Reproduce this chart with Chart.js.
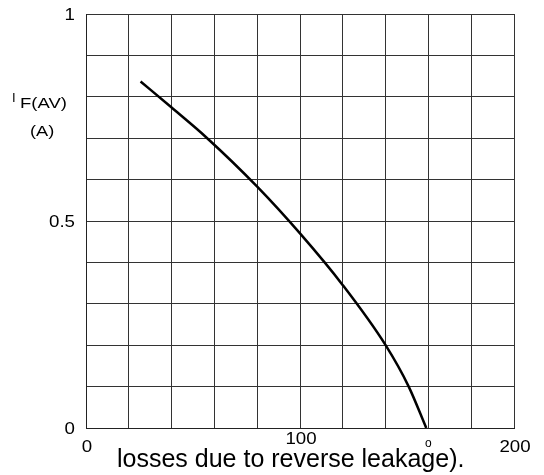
<!DOCTYPE html>
<html>
<head>
<meta charset="utf-8">
<script src="https://cdn.jsdelivr.net/npm/chart.js@4/dist/chart.umd.min.js"></script>
<style>
  html, body { margin: 0; padding: 0; background: #fff; }
  #wrap { width: 544px; height: 475px; }
</style>
</head>
<body>
<div id="wrap"><canvas id="derating"></canvas></div>
<script>
// Forward current derating curve: I F(AV) (A) vs temperature
const tempPoints = [25.5, 40, 56, 80, 100, 120, 140, 150.8, 159];
const currentPoints = [0.837, 0.774, 0.703, 0.583, 0.470, 0.345, 0.200, 0.100, 0];
const xLabeled = [0, 100, 200];
const yLabeled = [1, 0.5, 0];
const yTitleMain = "I";
const yTitleSub = "F(AV)";
const yTitleUnit = "(A)";
const footText = "losses due to reverse leakage).";
const degreeMark = "o";

const FONT = "Arial, 'Liberation Sans', sans-serif";

// text drawn with a horizontal stretch, anchored at (x, y)
function stretchText(ctx, text, x, y, size, sx, align) {
  ctx.save();
  ctx.font = size + "px " + FONT;
  ctx.textAlign = align;
  ctx.translate(x, y);
  ctx.scale(sx, 1);
  ctx.fillText(text, 0, 0);
  ctx.restore();
}

// tick labels, axis title and caption
const annotations = {
  id: "annotations",
  afterDraw(chart) {
    const ctx = chart.ctx;
    const xs = chart.scales.x;
    const ys = chart.scales.y;
    ctx.save();
    ctx.fillStyle = "#000";
    ctx.textBaseline = "middle";

    yLabeled.forEach((v) => {
      stretchText(ctx, String(v), 75, ys.getPixelForValue(v) + 1, 17, 1.1, "right");
    });
    xLabeled.forEach((v) => {
      // the middle label sits a little higher in the original layout
      const y = v === 100 ? 439 : 447;
      stretchText(ctx, String(v), xs.getPixelForValue(v) + 1, y, 17, 1.1, "center");
    });

    stretchText(ctx, yTitleMain, 12, 98, 13, 1.0, "left");
    stretchText(ctx, yTitleSub, 20, 104, 14, 1.32, "left");
    stretchText(ctx, yTitleUnit, 30, 132, 14, 1.3, "left");

    stretchText(ctx, degreeMark, xs.getPixelForValue(160), 444, 12, 1.0, "center");

    ctx.textBaseline = "alphabetic";
    stretchText(ctx, footText, 117, 467, 25, 1.0, "left");
    ctx.restore();
  }
};

new Chart(document.getElementById("derating"), {
  type: "line",
  data: {
    datasets: [{
      data: tempPoints.map((t, i) => ({ x: t, y: currentPoints[i] })),
      borderColor: "#000",
      borderWidth: 2.5,
      pointRadius: 0,
      fill: false,
      cubicInterpolationMode: "monotone",
    }],
  },
  options: {
    responsive: true,
    maintainAspectRatio: false,
    animation: false,
    layout: { padding: { left: 0, right: 30, top: 14, bottom: 0 } },
    plugins: { legend: { display: false }, tooltip: { enabled: false } },
    scales: {
      x: {
        type: "linear",
        min: 0,
        max: 200,
        afterFit: (s) => { s.height = 47; },
        border: { display: true, color: "#222", width: 1 },
        grid: { color: "#333", lineWidth: 1, drawTicks: false },
        ticks: { stepSize: 20, display: false },
      },
      y: {
        type: "linear",
        min: 0,
        max: 1,
        afterFit: (s) => { s.width = 86; },
        border: { display: true, color: "#222", width: 1 },
        grid: { color: "#333", lineWidth: 1, drawTicks: false },
        ticks: { stepSize: 0.1, display: false },
      },
    },
  },
  plugins: [annotations],
});
</script>
</body>
</html>
